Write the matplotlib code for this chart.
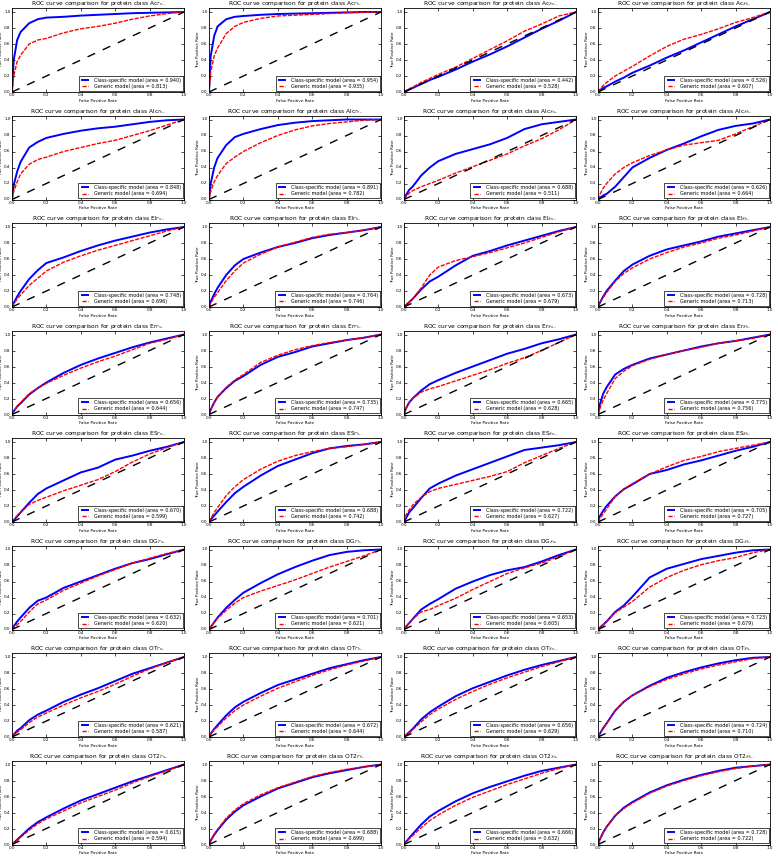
import matplotlib
matplotlib.use("Agg")
import matplotlib.pyplot as plt

plt.style.use("classic")

# shared false positive rate grid
fpr = [0, 0.01, 0.03, 0.05, 0.1, 0.15, 0.2, 0.3, 0.4, 0.5, 0.6, 0.7, 0.8, 0.9, 1.0]

classes = [
    r"Ac$r_u$", r"Ac$r_b$", r"Ac$s_u$", r"Ac$s_b$",
    r"Alc$r_u$", r"Alc$r_b$", r"Alc$s_u$", r"Alc$s_b$",
    r"El$r_u$", r"El$r_b$", r"El$s_u$", r"El$s_b$",
    r"Er$r_u$", r"Er$r_b$", r"Er$s_u$", r"Er$s_b$",
    r"ES$r_u$", r"ES$r_b$", r"ES$s_u$", r"ES$s_b$",
    r"DG$r_u$", r"DG$r_b$", r"DG$s_u$", r"DG$s_b$",
    r"OT$r_u$", r"OT$r_b$", r"OT$s_u$", r"OT$s_b$",
    r"OT2$r_u$", r"OT2$r_b$", r"OT2$s_u$", r"OT2$s_b$",
]

auc_specific = [0.940, 0.954, 0.442, 0.526,
                0.848, 0.891, 0.688, 0.626,
                0.748, 0.764, 0.673, 0.728,
                0.656, 0.735, 0.665, 0.775,
                0.670, 0.688, 0.722, 0.705,
                0.632, 0.701, 0.653, 0.723,
                0.621, 0.672, 0.656, 0.724,
                0.615, 0.688, 0.666, 0.728]

auc_generic = [0.813, 0.935, 0.528, 0.607,
               0.694, 0.782, 0.511, 0.664,
               0.696, 0.746, 0.679, 0.713,
               0.644, 0.747, 0.628, 0.756,
               0.599, 0.742, 0.627, 0.727,
               0.620, 0.621, 0.605, 0.679,
               0.587, 0.644, 0.629, 0.710,
               0.594, 0.699, 0.632, 0.722]

tpr_specific = [
    [0, 0.40, 0.65, 0.75, 0.86, 0.91, 0.93, 0.94, 0.955, 0.965, 0.975, 0.985, 0.99, 0.995, 1.0],
    [0, 0.45, 0.70, 0.82, 0.91, 0.94, 0.95, 0.965, 0.975, 0.98, 0.985, 0.99, 0.995, 1.0, 1.0],
    [0, 0.01, 0.03, 0.05, 0.10, 0.15, 0.19, 0.28, 0.38, 0.47, 0.57, 0.68, 0.79, 0.89, 1.0],
    [0, 0.02, 0.05, 0.07, 0.13, 0.18, 0.24, 0.33, 0.43, 0.52, 0.62, 0.72, 0.82, 0.91, 1.0],
    [0, 0.18, 0.35, 0.47, 0.65, 0.72, 0.77, 0.82, 0.86, 0.89, 0.91, 0.94, 0.97, 0.99, 1.0],
    [0, 0.20, 0.40, 0.52, 0.68, 0.78, 0.82, 0.88, 0.93, 0.96, 0.98, 0.99, 1.0, 1.0, 1.0],
    [0, 0.05, 0.12, 0.16, 0.30, 0.40, 0.48, 0.57, 0.63, 0.69, 0.77, 0.88, 0.94, 0.97, 1.0],
    [0, 0.02, 0.05, 0.07, 0.16, 0.28, 0.40, 0.52, 0.62, 0.70, 0.79, 0.87, 0.92, 0.95, 1.0],
    [0, 0.05, 0.13, 0.20, 0.35, 0.46, 0.55, 0.62, 0.70, 0.77, 0.83, 0.88, 0.93, 0.97, 1.0],
    [0, 0.07, 0.16, 0.24, 0.40, 0.52, 0.60, 0.68, 0.75, 0.80, 0.86, 0.90, 0.93, 0.96, 1.0],
    [0, 0.02, 0.06, 0.10, 0.22, 0.32, 0.38, 0.52, 0.64, 0.70, 0.77, 0.83, 0.89, 0.95, 1.0],
    [0, 0.05, 0.13, 0.20, 0.33, 0.45, 0.53, 0.64, 0.72, 0.77, 0.82, 0.88, 0.92, 0.96, 1.0],
    [0, 0.04, 0.10, 0.14, 0.25, 0.33, 0.40, 0.52, 0.62, 0.70, 0.77, 0.84, 0.90, 0.95, 1.0],
    [0, 0.06, 0.15, 0.22, 0.33, 0.42, 0.48, 0.62, 0.72, 0.78, 0.85, 0.89, 0.93, 0.96, 1.0],
    [0, 0.07, 0.15, 0.20, 0.30, 0.38, 0.43, 0.52, 0.60, 0.68, 0.76, 0.82, 0.89, 0.94, 1.0],
    [0, 0.12, 0.26, 0.34, 0.50, 0.57, 0.62, 0.70, 0.75, 0.80, 0.85, 0.89, 0.92, 0.96, 1.0],
    [0, 0.02, 0.07, 0.12, 0.24, 0.35, 0.42, 0.52, 0.62, 0.68, 0.78, 0.83, 0.89, 0.94, 1.0],
    [0, 0.03, 0.08, 0.13, 0.25, 0.36, 0.44, 0.58, 0.70, 0.78, 0.86, 0.92, 0.95, 0.97, 1.0],
    [0, 0.04, 0.12, 0.17, 0.30, 0.42, 0.48, 0.58, 0.66, 0.74, 0.82, 0.90, 0.93, 0.96, 1.0],
    [0, 0.07, 0.14, 0.20, 0.32, 0.41, 0.47, 0.60, 0.65, 0.72, 0.77, 0.83, 0.89, 0.94, 1.0],
    [0, 0.04, 0.10, 0.15, 0.27, 0.36, 0.40, 0.52, 0.60, 0.68, 0.76, 0.83, 0.88, 0.94, 1.0],
    [0, 0.03, 0.09, 0.15, 0.27, 0.37, 0.46, 0.58, 0.69, 0.78, 0.86, 0.93, 0.97, 0.99, 1.0],
    [0, 0.03, 0.08, 0.13, 0.25, 0.32, 0.38, 0.51, 0.60, 0.68, 0.74, 0.78, 0.85, 0.93, 1.0],
    [0, 0.02, 0.06, 0.10, 0.22, 0.30, 0.41, 0.65, 0.76, 0.82, 0.88, 0.92, 0.96, 0.99, 1.0],
    [0, 0.03, 0.08, 0.11, 0.21, 0.28, 0.33, 0.44, 0.53, 0.61, 0.70, 0.79, 0.86, 0.93, 1.0],
    [0, 0.04, 0.10, 0.15, 0.27, 0.37, 0.44, 0.55, 0.65, 0.72, 0.79, 0.86, 0.91, 0.96, 1.0],
    [0, 0.02, 0.06, 0.10, 0.22, 0.31, 0.38, 0.51, 0.61, 0.69, 0.77, 0.84, 0.90, 0.95, 1.0],
    [0, 0.04, 0.11, 0.17, 0.33, 0.44, 0.52, 0.64, 0.74, 0.81, 0.87, 0.92, 0.96, 0.99, 1.0],
    [0, 0.02, 0.06, 0.10, 0.20, 0.28, 0.34, 0.45, 0.55, 0.63, 0.71, 0.79, 0.86, 0.93, 1.0],
    [0, 0.05, 0.12, 0.18, 0.31, 0.41, 0.49, 0.60, 0.70, 0.77, 0.84, 0.89, 0.93, 0.97, 1.0],
    [0, 0.03, 0.08, 0.13, 0.25, 0.35, 0.42, 0.54, 0.64, 0.72, 0.79, 0.86, 0.92, 0.96, 1.0],
    [0, 0.06, 0.15, 0.22, 0.36, 0.46, 0.53, 0.65, 0.74, 0.81, 0.87, 0.92, 0.96, 0.98, 1.0],
]

tpr_generic = [
    [0, 0.20, 0.38, 0.46, 0.60, 0.65, 0.67, 0.74, 0.79, 0.82, 0.86, 0.91, 0.95, 0.98, 1.0],
    [0, 0.25, 0.45, 0.55, 0.73, 0.82, 0.87, 0.92, 0.95, 0.96, 0.97, 0.98, 0.99, 0.995, 1.0],
    [0, 0.015, 0.04, 0.06, 0.12, 0.17, 0.22, 0.31, 0.42, 0.53, 0.64, 0.76, 0.85, 0.95, 1.0],
    [0, 0.03, 0.08, 0.12, 0.20, 0.26, 0.32, 0.45, 0.57, 0.66, 0.72, 0.79, 0.87, 0.93, 1.0],
    [0, 0.10, 0.22, 0.32, 0.44, 0.50, 0.53, 0.60, 0.65, 0.70, 0.74, 0.80, 0.86, 0.93, 1.0],
    [0, 0.10, 0.22, 0.30, 0.45, 0.53, 0.60, 0.71, 0.80, 0.87, 0.92, 0.95, 0.97, 0.99, 1.0],
    [0, 0.03, 0.08, 0.11, 0.16, 0.20, 0.24, 0.33, 0.41, 0.49, 0.57, 0.67, 0.76, 0.87, 1.0],
    [0, 0.06, 0.14, 0.20, 0.32, 0.40, 0.46, 0.55, 0.62, 0.68, 0.71, 0.74, 0.82, 0.91, 1.0],
    [0, 0.04, 0.10, 0.15, 0.27, 0.36, 0.45, 0.56, 0.64, 0.71, 0.77, 0.83, 0.89, 0.95, 1.0],
    [0, 0.05, 0.12, 0.18, 0.33, 0.45, 0.55, 0.66, 0.75, 0.81, 0.87, 0.91, 0.93, 0.96, 1.0],
    [0, 0.02, 0.06, 0.10, 0.24, 0.40, 0.50, 0.58, 0.63, 0.68, 0.74, 0.80, 0.87, 0.94, 1.0],
    [0, 0.05, 0.12, 0.18, 0.32, 0.42, 0.49, 0.60, 0.68, 0.75, 0.80, 0.86, 0.90, 0.95, 1.0],
    [0, 0.04, 0.10, 0.15, 0.26, 0.33, 0.39, 0.49, 0.58, 0.66, 0.73, 0.81, 0.89, 0.94, 1.0],
    [0, 0.06, 0.15, 0.22, 0.34, 0.43, 0.50, 0.65, 0.74, 0.81, 0.86, 0.90, 0.93, 0.96, 1.0],
    [0, 0.07, 0.15, 0.20, 0.28, 0.32, 0.35, 0.42, 0.49, 0.56, 0.64, 0.71, 0.80, 0.90, 1.0],
    [0, 0.07, 0.18, 0.26, 0.45, 0.54, 0.61, 0.69, 0.75, 0.80, 0.84, 0.89, 0.92, 0.95, 1.0],
    [0, 0.03, 0.08, 0.12, 0.22, 0.27, 0.31, 0.39, 0.46, 0.53, 0.63, 0.75, 0.85, 0.93, 1.0],
    [0, 0.04, 0.12, 0.18, 0.33, 0.44, 0.53, 0.66, 0.76, 0.83, 0.88, 0.92, 0.94, 0.97, 1.0],
    [0, 0.08, 0.15, 0.21, 0.31, 0.38, 0.42, 0.47, 0.52, 0.57, 0.63, 0.74, 0.83, 0.92, 1.0],
    [0, 0.04, 0.10, 0.16, 0.32, 0.41, 0.48, 0.60, 0.69, 0.77, 0.82, 0.88, 0.92, 0.96, 1.0],
    [0, 0.02, 0.06, 0.10, 0.22, 0.32, 0.37, 0.49, 0.58, 0.67, 0.75, 0.83, 0.89, 0.95, 1.0],
    [0, 0.03, 0.09, 0.14, 0.24, 0.33, 0.40, 0.48, 0.55, 0.62, 0.70, 0.78, 0.85, 0.92, 1.0],
    [0, 0.03, 0.08, 0.13, 0.22, 0.25, 0.30, 0.39, 0.50, 0.60, 0.70, 0.77, 0.83, 0.91, 1.0],
    [0, 0.02, 0.06, 0.10, 0.21, 0.28, 0.35, 0.53, 0.65, 0.74, 0.81, 0.86, 0.90, 0.96, 1.0],
    [0, 0.02, 0.06, 0.09, 0.18, 0.25, 0.30, 0.40, 0.49, 0.57, 0.66, 0.76, 0.85, 0.93, 1.0],
    [0, 0.04, 0.09, 0.13, 0.24, 0.33, 0.40, 0.51, 0.61, 0.69, 0.77, 0.84, 0.90, 0.95, 1.0],
    [0, 0.02, 0.05, 0.09, 0.19, 0.28, 0.35, 0.47, 0.57, 0.66, 0.74, 0.81, 0.88, 0.94, 1.0],
    [0, 0.04, 0.11, 0.17, 0.33, 0.44, 0.52, 0.63, 0.72, 0.79, 0.85, 0.90, 0.94, 0.98, 1.0],
    [0, 0.02, 0.05, 0.09, 0.18, 0.26, 0.32, 0.42, 0.52, 0.60, 0.68, 0.77, 0.85, 0.92, 1.0],
    [0, 0.05, 0.13, 0.19, 0.33, 0.43, 0.51, 0.62, 0.71, 0.78, 0.85, 0.90, 0.94, 0.97, 1.0],
    [0, 0.03, 0.07, 0.11, 0.21, 0.30, 0.37, 0.49, 0.59, 0.67, 0.75, 0.82, 0.89, 0.95, 1.0],
    [0, 0.06, 0.15, 0.22, 0.36, 0.45, 0.52, 0.64, 0.73, 0.80, 0.86, 0.91, 0.95, 0.98, 1.0],
]

W, H = 778, 868
fig = plt.figure(figsize=(W / 100, H / 100), dpi=100)
fig.patch.set_facecolor("white")

col_left = [12, 209, 404, 598]
ax_w, ax_h = 172, 84
row_pitch = 107.5

for i, name in enumerate(classes):
    r, c = divmod(i, 4)
    top = 8 + r * row_pitch
    ax = fig.add_axes([col_left[c] / W, 1 - (top + ax_h) / H, ax_w / W, ax_h / H])
    ax.plot(fpr, tpr_specific[i], "b-", lw=1.4,
            label="Class-specific model (area = %0.3f)" % auc_specific[i])
    ax.plot(fpr, tpr_generic[i], color="r", ls=(0, (3, 1)), lw=1.0,
            label="Generic model (area = %0.3f)" % auc_generic[i])
    ax.plot([0, 1], [0, 1], "k--", lw=1)
    ax.set_xlim(0, 1)
    ax.set_ylim(0, 1.05)
    ax.set_xticks([0, 0.2, 0.4, 0.6, 0.8, 1.0])
    ax.set_yticks([0, 0.2, 0.4, 0.6, 0.8, 1.0])
    ax.tick_params(labelsize=3, length=2, width=0.5, pad=1)
    ax.set_xlabel("False Positive Rate", fontsize=3, labelpad=1)
    ax.set_ylabel("True Positive Rate", fontsize=3, labelpad=1)
    ax.set_title("ROC curve comparison for protein class %s." % name, fontsize=4.2, pad=2)
    for s in ax.spines.values():
        s.set_linewidth(0.6)
    leg = ax.legend(loc="lower right", fontsize=3.5, handlelength=2.0,
                    borderpad=0.35, labelspacing=0.25, borderaxespad=0.3)
    leg.get_frame().set_linewidth(0.5)

fig.savefig("out.png", dpi=100)
